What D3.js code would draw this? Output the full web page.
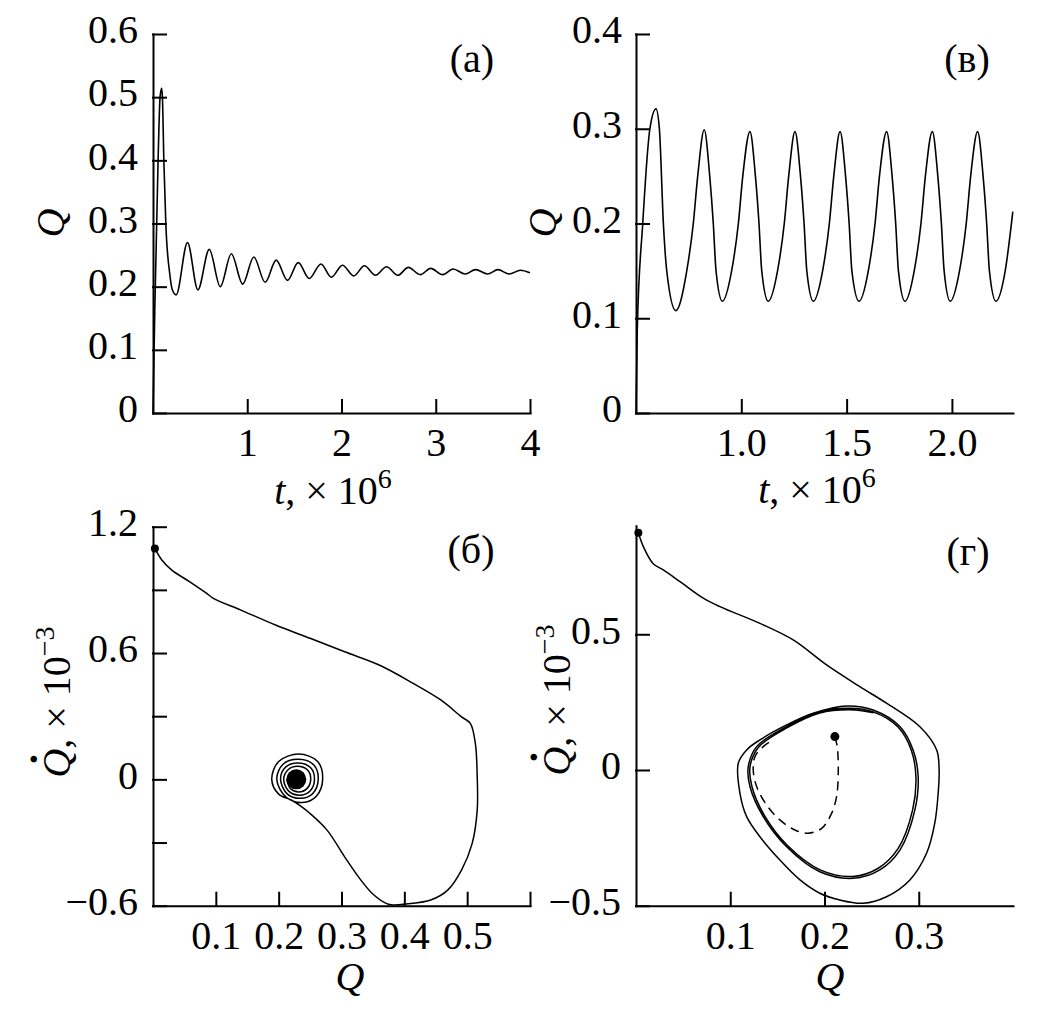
<!DOCTYPE html>
<html>
<head>
<meta charset="utf-8">
<script src="https://cdn.jsdelivr.net/npm/d3@7"></script>
<style>
  body { margin: 0; background: #fff; }
  svg { display: block; }
  text { font-family: "Liberation Serif", "Times New Roman", serif; fill: #000; }
</style>
</head>
<body>
<svg id="chart" width="1039" height="1018"></svg>
<script>
// ---- panel (a): Q(t), t in units of 10^6 ----
var tA = [0, 0.019, 0.054, 0.075, 0.092, 0.100, 0.115, 0.136, 0.178, 0.205, 0.246,
  0.366, 0.476, 0.597, 0.714, 0.831, 0.952, 1.069, 1.190, 1.307, 1.427, 1.541, 1.658,
  1.782, 1.893, 2.010, 2.130, 2.243, 2.360, 2.478, 2.598, 2.709, 2.836, 2.946, 3.074,
  3.184, 3.312, 3.422, 3.550, 3.660, 3.780, 3.898, 4.0];
var qA = [0, 0.164, 0.40, 0.50, 0.514, 0.50, 0.40, 0.30, 0.22, 0.195, 0.187,
  0.270, 0.195, 0.259, 0.200, 0.252, 0.204, 0.247, 0.207, 0.242, 0.210, 0.238, 0.213,
  0.236, 0.215, 0.234, 0.217, 0.233, 0.218, 0.2315, 0.218, 0.2305, 0.219, 0.229, 0.219,
  0.228, 0.220, 0.227, 0.220, 0.227, 0.220, 0.226, 0.222];

// ---- panel (в): Q(t) ----
var tB = [0.5, 0.506, 0.532, 0.566, 0.595, 0.611, 0.630, 0.646, 0.689,
  0.741, 0.772, 0.793, 0.824, 0.850, 0.867, 0.880, 0.910,
  0.954, 0.986, 1.007, 1.041, 1.067, 1.084, 1.097, 1.128,
  1.172, 1.204, 1.225, 1.255, 1.281, 1.298, 1.311, 1.342,
  1.386, 1.418, 1.439, 1.469, 1.495, 1.512, 1.525, 1.559,
  1.603, 1.635, 1.656, 1.690, 1.716, 1.733, 1.746, 1.777,
  1.821, 1.853, 1.874, 1.907, 1.933, 1.950, 1.963, 1.992,
  2.036, 2.068, 2.089, 2.122, 2.148, 2.165, 2.178, 2.209,
  2.253, 2.289];
var qB = [0, 0.088, 0.2, 0.3, 0.321, 0.3, 0.2, 0.15, 0.108,
  0.15, 0.2, 0.25, 0.299, 0.25, 0.2, 0.15, 0.118,
  0.15, 0.2, 0.25, 0.297, 0.25, 0.2, 0.15, 0.118,
  0.15, 0.2, 0.25, 0.297, 0.25, 0.2, 0.15, 0.118,
  0.15, 0.2, 0.25, 0.297, 0.25, 0.2, 0.15, 0.118,
  0.15, 0.2, 0.25, 0.297, 0.25, 0.2, 0.15, 0.118,
  0.15, 0.2, 0.25, 0.297, 0.25, 0.2, 0.15, 0.118,
  0.15, 0.2, 0.25, 0.297, 0.25, 0.2, 0.15, 0.118,
  0.15, 0.2125];

// ---- panel (б): phase portrait, Qdot in units of 10^-3 ----
var qC = [0.003, 0.014, 0.030, 0.058, 0.085, 0.096, 0.140, 0.195, 0.250, 0.305, 0.360,
  0.414, 0.458, 0.491, 0.505, 0.513, 0.516, 0.516, 0.508, 0.491, 0.469, 0.442, 0.403,
  0.382, 0.371, 0.349, 0.327, 0.305, 0.277, 0.250, 0.233, 0.220, 0.200,
  0.189, 0.200, 0.232, 0.262, 0.270, 0.260, 0.238, 0.212,
  0.197, 0.207, 0.232, 0.256, 0.263, 0.254, 0.235, 0.214,
  0.203, 0.211, 0.231, 0.251, 0.257, 0.250, 0.233, 0.216,
  0.208, 0.215, 0.230, 0.246, 0.251, 0.245, 0.232, 0.219, 0.213];
var dC = [1.097, 1.042, 0.994, 0.939, 0.884, 0.860, 0.804, 0.733, 0.670, 0.606, 0.543,
  0.456, 0.377, 0.297, 0.266, 0.171, 0.012, -0.146, -0.304, -0.431, -0.526, -0.573, -0.592,
  -0.597, -0.589, -0.542, -0.463, -0.368, -0.241, -0.162, -0.122, -0.098, -0.070,
  0.0, 0.085, 0.120, 0.085, 0.0, -0.080, -0.110, -0.085,
  0.0, 0.072, 0.095, 0.068, 0.0, -0.068, -0.090, -0.070,
  0.0, 0.058, 0.078, 0.055, 0.0, -0.055, -0.075, -0.056,
  0.0, 0.046, 0.062, 0.044, 0.0, -0.044, -0.060, -0.045, 0.0];
var focusC = [0.228, 0.0];

// ---- panel (г): phase portrait ----
var qD = [0.0025, 0.0078, 0.018, 0.029, 0.0467, 0.0714, 0.089, 0.1315, 0.1668, 0.2022,
  0.2375, 0.2658, 0.301, 0.319, 0.3216, 0.3206, 0.317, 0.3083, 0.2906, 0.2658, 0.241,
  0.2163, 0.195, 0.174, 0.1527, 0.1315, 0.1174, 0.1103, 0.1085, 0.1174, 0.1315, 0.1598,
  0.188, 0.2234, 0.2516, 0.280, 0.294, 0.2994, 0.2959, 0.280, 0.2587, 0.2304, 0.195,
  0.1598, 0.135, 0.1209, 0.1191, 0.128, 0.1598, 0.195, 0.227,
  0.2516, 0.278, 0.292, 0.297, 0.2935, 0.278, 0.257, 0.2304, 0.196, 0.161, 0.137,
  0.123, 0.121, 0.130, 0.1605, 0.195, 0.227, 0.252];
var dD = [0.874, 0.823, 0.761, 0.737, 0.694, 0.633, 0.602, 0.540, 0.479, 0.387,
  0.307, 0.246, 0.160, 0.074, 0.0, -0.086, -0.196, -0.307, -0.405, -0.467, -0.491,
  -0.479, -0.454, -0.405, -0.332, -0.246, -0.172, -0.086, 0.025, 0.074, 0.111, 0.166,
  0.209, 0.236, 0.221, 0.160, 0.074, -0.025, -0.147, -0.295, -0.368, -0.399, -0.375,
  -0.283, -0.172, -0.061, 0.012, 0.086, 0.160, 0.215, 0.227,
  0.214, 0.158, 0.074, -0.025, -0.147, -0.290, -0.362, -0.392, -0.369, -0.279, -0.172,
  -0.061, 0.012, 0.084, 0.156, 0.210, 0.222, 0.211];
// dashed trajectory from the fixed point
var qDash = [0.211, 0.2135, 0.2146, 0.2128, 0.2075, 0.197, 0.1827, 0.1686, 0.1527,
  0.1386, 0.128, 0.1244, 0.1262, 0.135, 0.1456];
var dDash = [0.123, 0.086, -0.012, -0.098, -0.160, -0.215, -0.233, -0.221, -0.184,
  -0.129, -0.061, 0.0, 0.049, 0.086, 0.111];

var svg = d3.select("#chart");
var FONT = 40, SUP = 28, TICK = 13;

function zip(a, b) {
  return a.map(function(v, i) { return [v, b[i]]; });
}

// draw both axes of one panel; ticks point inward
function drawAxes(p) {
  var g = svg.append("g");
  var xAxis = d3.axisBottom(p.x)
    .tickValues(p.xTicks)
    .tickSize(-TICK)
    .tickSizeOuter(0)
    .tickPadding(15)
    .tickFormat(p.xFormat);
  var yAxis = d3.axisLeft(p.y)
    .tickValues(p.yTicks)
    .tickSize(-TICK)
    .tickSizeOuter(0)
    .tickPadding(p.yPad || 15)
    .tickFormat(p.yFormat);

  var gx = g.append("g")
    .attr("transform", "translate(0," + p.y.range()[0] + ")")
    .call(xAxis);
  var gy = g.append("g")
    .attr("transform", "translate(" + p.x.range()[0] + ",0)")
    .call(yAxis);

  [gx, gy].forEach(function(a) {
    a.attr("font-size", null).attr("font-family", null);
    a.selectAll("path, line")
      .style("stroke", "#000")
      .style("stroke-width", 2)
      .style("stroke-linecap", "square");
    a.selectAll("text").style("font-size", FONT + "px");
  });
  gy.selectAll("text").attr("dy", "0.22em");
}

function panelLabel(x, y, txt) {
  svg.append("text")
    .attr("x", x).attr("y", y)
    .attr("text-anchor", "middle")
    .style("font-size", FONT + "px")
    .text(txt);
}

// x title "t, × 10^6"
function timeTitle(cx, by) {
  var t = svg.append("text")
    .attr("x", cx).attr("y", by)
    .attr("text-anchor", "middle")
    .style("font-size", FONT + "px");
  t.append("tspan").style("font-style", "italic").text("t");
  t.append("tspan").text(", × 10");
  t.append("tspan").attr("dy", -16).style("font-size", SUP + "px").text("6");
}

function qTitle(cx, by) {
  svg.append("text")
    .attr("x", cx).attr("y", by)
    .attr("text-anchor", "middle")
    .style("font-size", FONT + "px")
    .style("font-style", "italic")
    .text("Q");
}

// rotated "Q" title
function qTitleV(bx, cy) {
  svg.append("text")
    .attr("transform", "translate(" + bx + "," + cy + ") rotate(-90)")
    .attr("text-anchor", "middle")
    .style("font-size", FONT + "px")
    .style("font-style", "italic")
    .text("Q");
}

// rotated "Q̇, × 10^-3" title
function qdotTitleV(bx, cy) {
  var g = svg.append("g")
    .attr("transform", "translate(" + bx + "," + cy + ") rotate(-90)");
  var t = g.append("text")
    .attr("x", 0).attr("y", 0)
    .attr("text-anchor", "middle")
    .style("font-size", FONT + "px");
  t.append("tspan").style("font-style", "italic").text("Q");
  t.append("tspan").text(", × 10");
  t.append("tspan").attr("dy", -16).style("font-size", SUP + "px").text("−3");
  // the dot over Q
  g.append("text")
    .attr("x", -57).attr("y", -23)
    .attr("text-anchor", "middle")
    .style("font-size", FONT + "px")
    .style("font-weight", "bold")
    .text("·");
}

function fmt1(d) { return d === 0 ? "0" : d3.format(".1f")(d); }

// ---------------- panel (a) ----------------
var xA = d3.scaleLinear().domain([0, 4]).range([153, 530]);
var yA = d3.scaleLinear().domain([0, 0.6]).range([413, 34]);
drawAxes({
  x: xA, y: yA,
  xTicks: [1, 2, 3, 4], xFormat: d3.format("d"),
  yTicks: [0, 0.1, 0.2, 0.3, 0.4, 0.5, 0.6], yFormat: fmt1
});
svg.append("path")
  .datum(zip(tA, qA))
  .attr("fill", "none").attr("stroke", "#000").attr("stroke-width", 1.6)
  .attr("d", d3.line()
    .x(function(d) { return xA(d[0]); })
    .y(function(d) { return yA(d[1]); })
    .curve(d3.curveMonotoneX));
panelLabel(472, 72, "(a)");
timeTitle(333, 504);
qTitleV(64, 223);

// ---------------- panel (в) ----------------
var xB = d3.scaleLinear().domain([0.5, 2.29]).range([636, 1013]);
var yB = d3.scaleLinear().domain([0, 0.4]).range([413, 34]);
drawAxes({
  x: xB, y: yB, yPad: 14,
  xTicks: [1.0, 1.5, 2.0], xFormat: d3.format(".1f"),
  yTicks: [0, 0.1, 0.2, 0.3, 0.4], yFormat: fmt1
});
svg.append("path")
  .datum(zip(tB, qB))
  .attr("fill", "none").attr("stroke", "#000").attr("stroke-width", 1.6)
  .attr("d", d3.line()
    .x(function(d) { return xB(d[0]); })
    .y(function(d) { return yB(d[1]); })
    .curve(d3.curveMonotoneX));
panelLabel(967, 72, "(в)");
timeTitle(817, 503);
qTitleV(556, 223);

// ---------------- panel (б) ----------------
var xC = d3.scaleLinear().domain([0, 0.6]).range([153, 530]);
var yC = d3.scaleLinear().domain([-0.6, 1.2]).range([905.7, 526.7]);
drawAxes({
  x: xC, y: yC,
  xTicks: [0.1, 0.2, 0.3, 0.4, 0.5, 0.6],
  xFormat: function(d) { return d > 0.55 ? "" : d3.format(".1f")(d); },
  yTicks: [-0.6, -0.3, 0, 0.3, 0.6, 0.9, 1.2],
  yFormat: function(d) {
    return [-0.6, 0, 0.6, 1.2].indexOf(d) >= 0 ? fmt1(d) : "";
  }
});
svg.append("path")
  .datum(zip(qC, dC))
  .attr("fill", "none").attr("stroke", "#000").attr("stroke-width", 1.5)
  .attr("d", d3.line()
    .x(function(d) { return xC(d[0]); })
    .y(function(d) { return yC(d[1]); })
    .curve(d3.curveCatmullRom));
svg.append("circle")
  .attr("cx", xC(qC[0])).attr("cy", yC(dC[0])).attr("r", 4);
svg.append("circle")
  .attr("cx", xC(focusC[0])).attr("cy", yC(focusC[1])).attr("r", 10);
panelLabel(471, 563, "(б)");
qTitle(350, 990);
qdotTitleV(70, 702);

// ---------------- panel (г) ----------------
var xD = d3.scaleLinear().domain([0, 0.4]).range([636, 1013]);
var yD = d3.scaleLinear().domain([-0.5, 0.9]).range([905.7, 525.7]);
drawAxes({
  x: xD, y: yD,
  xTicks: [0.1, 0.2, 0.3], xFormat: d3.format(".1f"),
  yTicks: [-0.5, 0, 0.5], yFormat: fmt1
});
var lineD = d3.line()
  .x(function(d) { return xD(d[0]); })
  .y(function(d) { return yD(d[1]); })
  .curve(d3.curveCatmullRom);
svg.append("path")
  .datum(zip(qD, dD))
  .attr("fill", "none").attr("stroke", "#000").attr("stroke-width", 1.5)
  .attr("d", lineD);
svg.append("path")
  .datum(zip(qDash, dDash))
  .attr("fill", "none").attr("stroke", "#000").attr("stroke-width", 1.5)
  .attr("stroke-dasharray", "9,6")
  .attr("d", lineD);
svg.append("circle")
  .attr("cx", xD(qD[0])).attr("cy", yD(dD[0])).attr("r", 4);
svg.append("circle")
  .attr("cx", xD(qDash[0])).attr("cy", yD(dDash[0])).attr("r", 4.5);
panelLabel(968, 565, "(г)");
qTitle(830, 990);
qdotTitleV(570, 700);
</script>
</body>
</html>
